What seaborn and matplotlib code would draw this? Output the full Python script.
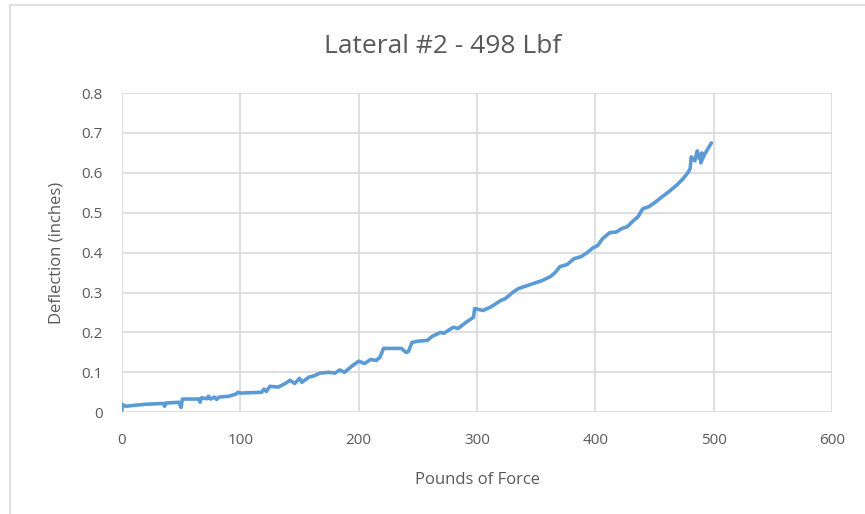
import numpy as np
import pandas as pd
import matplotlib
matplotlib.use("Agg")
import matplotlib.pyplot as plt
import matplotlib.patches as patches
import seaborn as sns

# force (lbf) vs deflection (in) in test order
force = [0, 0, 3, 20, 35, 36, 37, 48, 50, 51, 65, 66, 67, 72, 73, 75, 78, 80,
         82, 90, 96, 98, 100, 118, 120, 122, 125, 132, 138, 142, 146, 150, 152,
         158, 163, 167, 175, 180, 184, 188, 194, 200, 205, 210, 215, 218, 221,
         236, 240, 242, 245, 250, 258, 262, 269, 272, 280, 284, 291, 297, 298,
         305, 311, 316, 320, 324, 330, 335, 345, 355, 362, 366, 370, 376, 382,
         388, 393, 398, 402, 406, 412, 418, 422, 427, 432, 436, 440, 445, 450,
         455, 460, 465, 469, 474, 478, 480, 481, 484, 486, 488, 490, 489, 492,
         495, 498]
deflection = [0.005, 0.02, 0.015, 0.02, 0.022, 0.015, 0.023, 0.025, 0.012,
              0.033, 0.033, 0.025, 0.036, 0.034, 0.04, 0.033, 0.038, 0.032,
              0.038, 0.04, 0.045, 0.05, 0.048, 0.05, 0.058, 0.052, 0.065,
              0.063, 0.072, 0.08, 0.072, 0.085, 0.075, 0.088, 0.092, 0.098,
              0.1, 0.098, 0.106, 0.1, 0.115, 0.128, 0.122, 0.132, 0.13, 0.138,
              0.16, 0.16, 0.15, 0.152, 0.175, 0.178, 0.18, 0.19, 0.2, 0.198,
              0.213, 0.21, 0.226, 0.238, 0.26, 0.255, 0.263, 0.272, 0.28,
              0.285, 0.3, 0.31, 0.32, 0.33, 0.34, 0.35, 0.365, 0.37, 0.385,
              0.39, 0.4, 0.412, 0.418, 0.435, 0.45, 0.452, 0.46, 0.465, 0.48,
              0.49, 0.51, 0.515, 0.525, 0.537, 0.548, 0.56, 0.57, 0.585, 0.6,
              0.61, 0.64, 0.63, 0.655, 0.635, 0.65, 0.625, 0.645, 0.66, 0.675]

x_ticks = [0, 100, 200, 300, 400, 500, 600]
y_ticks = [0, 0.1, 0.2, 0.3, 0.4, 0.5, 0.6, 0.7, 0.8]

df = pd.DataFrame({"force": force, "deflection": deflection})

sns.set_theme(style="whitegrid")
plt.rcParams['font.family'] = ['Open Sans', 'DejaVu Sans']

fig = plt.figure(figsize=(8.65, 5.14), dpi=100)
fig.patch.set_facecolor("white")
ax = fig.add_axes([0.141, 0.198, 0.821, 0.621])

sns.lineplot(data=df, x="force", y="deflection", sort=False, estimator=None,
             color="#5B9BD5", linewidth=2.6, ax=ax)

ax.set_xlim(0, 600)
ax.set_ylim(0, 0.8)
ax.set_xticks(x_ticks)
ax.set_yticks(y_ticks)
ax.set_xticklabels([str(v) for v in x_ticks])
ax.set_yticklabels(["0" if v == 0 else "%.1f" % v for v in y_ticks])
ax.tick_params(axis="both", length=0, labelsize=11, colors="#595959")
ax.tick_params(axis="x", pad=15)
ax.tick_params(axis="y", pad=14)
ax.grid(True, color="#d9d9d9", linewidth=1.2)
for s in ax.spines.values():
    s.set_visible(False)
ax.set_facecolor("white")

ax.set_xlabel("Pounds of Force", fontsize=12, color="#595959", labelpad=17)
ax.set_ylabel("Deflection (inches)", fontsize=12, color="#595959", labelpad=12)
fig.text(0.512, 0.91, "Lateral #2 - 498 Lbf", ha="center", va="center",
         fontsize=19, color="#595959")

# chart frame
frame = patches.Rectangle((10 / 865, -0.1), 1.2, 1.1 - 5 / 514,
                          transform=fig.transFigure, fill=False,
                          edgecolor="#d9d9d9", linewidth=1.2, clip_on=False)
fig.add_artist(frame)

fig.savefig("out.png", dpi=100)
